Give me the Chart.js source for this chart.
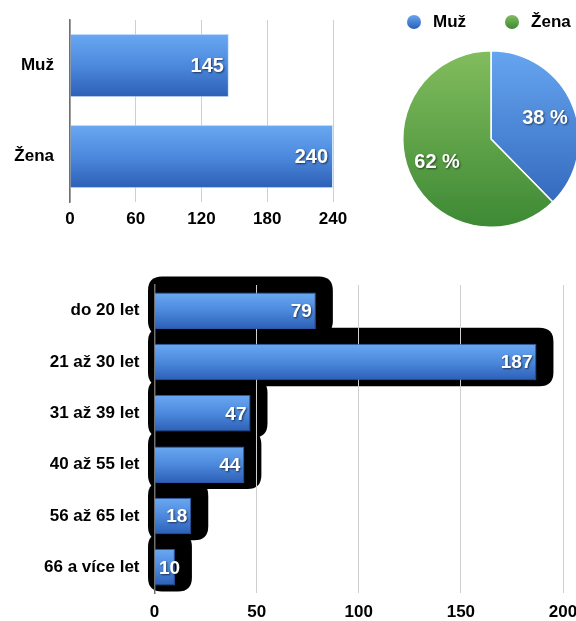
<!DOCTYPE html>
<html lang="cs">
<head>
  <meta charset="UTF-8">
  <title>Pohlaví a věk respondentů</title>

  <!-- Chart.js -->
  <script src="https://cdn.jsdelivr.net/npm/chart.js"></script>

  <style>
    html, body {
      margin: 0;
      padding: 0;
      background: #fff;
      overflow: hidden;
    }
    body {
      position: relative;
      width: 576px;
      height: 621px;
      font-family: "Liberation Sans", Arial, sans-serif;
    }
    .box { position: absolute; }
    #genderBox { left: 0; top: 0; width: 360px; height: 245px; }
    #pieBox { left: 361px; top: 0; width: 260px; height: 245px; }
    #ageBox { left: 0; top: 250px; width: 600px; height: 371px; }
    #pieLegend {
      position: absolute;
      left: 407px;
      top: 13px;
      display: flex;
      align-items: center;
      font-weight: bold;
      font-size: 17px;
      line-height: 18px;
      color: #000;
      white-space: nowrap;
    }
    #pieLegend .item { display: flex; align-items: center; margin-right: 39px; }
    #pieLegend .dot {
      width: 14px;
      height: 14px;
      border-radius: 50%;
      margin-right: 12px;
    }
  </style>
</head>
<body>

  <div class="box" id="genderBox"><canvas id="genderChart"></canvas></div>
  <div class="box" id="pieBox"><canvas id="pieChart"></canvas></div>
  <div id="pieLegend"></div>
  <div class="box" id="ageBox"><canvas id="ageChart"></canvas></div>

  <script>
    // data
    const genderLabels = ['Muž', 'Žena'];
    const genderCounts = [145, 240];
    const genderTicks = [0, 60, 120, 180, 240];

    const ageLabels = ['do 20 let', '21 až 30 let', '31 až 39 let', '40 až 55 let', '56 až 65 let', '66 a více let'];
    const ageCounts = [79, 187, 47, 44, 18, 10];
    const ageTicks = [0, 50, 100, 150, 200];

    const FONT = '"Liberation Sans", Arial, sans-serif';
    const tickFont = { family: FONT, size: 17, weight: 'bold' };

    // vertical blue gradient for each bar
    function barFill(c) {
      const chart = c.chart;
      const area = chart.chartArea;
      if (!area || c.dataIndex === undefined) return '#4a86dc';
      const mid = chart.scales.y.getPixelForValue(c.dataIndex);
      const half = (area.height / chart.data.labels.length) * c.dataset.barPercentage / 2;
      const g = chart.ctx.createLinearGradient(0, mid - half, 0, mid + half);
      g.addColorStop(0, '#6aa8f2');
      g.addColorStop(0.5, '#4c89dd');
      g.addColorStop(1, '#2c5fb6');
      return g;
    }

    // white numbers at the end of the bars
    const valueLabels = {
      id: 'valueLabels',
      afterDatasetsDraw(chart, args, opts) {
        const ctx = chart.ctx;
        const ds = chart.data.datasets[0];
        ctx.save();
        ctx.font = 'bold ' + opts.size + 'px ' + FONT;
        ctx.fillStyle = '#fff';
        ctx.textAlign = 'right';
        ctx.textBaseline = 'middle';
        ctx.shadowColor = 'rgba(0,0,0,0.6)';
        ctx.shadowOffsetX = 1;
        ctx.shadowOffsetY = 1;
        ctx.shadowBlur = 2;
        chart.getDatasetMeta(0).data.forEach((bar, i) => {
          const text = String(ds.data[i]);
          const w = ctx.measureText(text).width;
          const right = Math.max(bar.x - opts.inset, bar.base + 4 + w);
          ctx.fillText(text, right, bar.y + 1);
        });
        ctx.restore();
      }
    };

    function roundRectPath(ctx, x, y, w, h, r) {
      ctx.beginPath();
      ctx.moveTo(x + r, y);
      ctx.lineTo(x + w - r, y);
      ctx.quadraticCurveTo(x + w, y, x + w, y + r);
      ctx.lineTo(x + w, y + h - r);
      ctx.quadraticCurveTo(x + w, y + h, x + w - r, y + h);
      ctx.lineTo(x + r, y + h);
      ctx.quadraticCurveTo(x, y + h, x, y + h - r);
      ctx.lineTo(x, y + r);
      ctx.quadraticCurveTo(x, y, x + r, y);
      ctx.closePath();
    }

    // the heavy black shadow behind the age bars
    const blackShadow = {
      id: 'blackShadow',
      beforeDraw(chart) {
        const ctx = chart.ctx;
        ctx.save();
        ctx.fillStyle = '#000';
        chart.getDatasetMeta(0).data.forEach(bar => {
          const h = bar.height;
          roundRectPath(ctx, bar.base - 7, bar.y - h / 2 - 16, bar.x - bar.base + 24, h + 22, 14);
          ctx.fill();
        });
        ctx.restore();
      }
    };

    // percentages inside the pie
    const pieLabels = {
      id: 'pieLabels',
      afterDatasetsDraw(chart) {
        const ctx = chart.ctx;
        const vals = chart.data.datasets[0].data;
        const total = vals.reduce((a, b) => a + b, 0);
        ctx.save();
        ctx.font = 'bold 20px ' + FONT;
        ctx.fillStyle = '#fff';
        ctx.textAlign = 'center';
        ctx.textBaseline = 'middle';
        ctx.shadowColor = 'rgba(0,0,0,0.55)';
        ctx.shadowOffsetX = 1;
        ctx.shadowOffsetY = 1;
        ctx.shadowBlur = 2;
        chart.getDatasetMeta(0).data.forEach((arc, i) => {
          const a = (arc.startAngle + arc.endAngle) / 2;
          const r = arc.outerRadius * 0.66;
          ctx.fillText(Math.round(vals[i] / total * 100) + ' %', arc.x + Math.cos(a) * r, arc.y + Math.sin(a) * r + 1);
        });
        ctx.restore();
      }
    };

    const pieColors = [['#66a5f0', '#2c60b6'], ['#82bd5e', '#3d8934']];

    function pieFill(c) {
      const chart = c.chart;
      const area = chart.chartArea;
      const pair = pieColors[c.dataIndex] || pieColors[0];
      if (!area) return pair[1];
      const g = chart.ctx.createLinearGradient(0, area.top, 0, area.bottom);
      g.addColorStop(0, pair[0]);
      g.addColorStop(1, pair[1]);
      return g;
    }

    // gender bar chart
    new Chart(document.getElementById('genderChart'), {
      type: 'bar',
      data: {
        labels: genderLabels,
        datasets: [{
          data: genderCounts,
          backgroundColor: barFill,
          borderColor: 'rgba(205,225,250,0.9)',
          borderWidth: 1,
          borderSkipped: 'start',
          barPercentage: 0.7,
          categoryPercentage: 1
        }]
      },
      options: {
        indexAxis: 'y',
        responsive: true,
        maintainAspectRatio: false,
        animation: false,
        layout: { padding: { top: 20, right: 27, left: 0, bottom: 0 } },
        plugins: {
          legend: { display: false },
          tooltip: { enabled: false },
          valueLabels: { size: 20, inset: 5 }
        },
        scales: {
          x: {
            min: genderTicks[0],
            max: genderTicks[genderTicks.length - 1],
            afterBuildTicks: s => { s.ticks = genderTicks.map(v => ({ value: v })); },
            ticks: { color: '#000', font: tickFont, padding: 7 },
            grid: { color: '#cfcfcf', drawTicks: false },
            border: { display: false },
            afterFit: s => { s.height = 43; }
          },
          y: {
            ticks: { color: '#000', font: tickFont, padding: 16 },
            grid: { display: false, drawTicks: false },
            border: { color: '#6f6f6f', width: 1.5 },
            afterFit: s => { s.width = 70; s.paddingTop = 0; s.paddingBottom = 0; }
          }
        }
      },
      plugins: [valueLabels]
    });

    // pie
    new Chart(document.getElementById('pieChart'), {
      type: 'pie',
      data: {
        labels: genderLabels,
        datasets: [{
          data: genderCounts,
          backgroundColor: pieFill,
          borderColor: '#fff',
          borderWidth: 1.5
        }]
      },
      options: {
        responsive: true,
        maintainAspectRatio: false,
        animation: false,
        layout: { padding: { top: 50, bottom: 17 } },
        plugins: {
          legend: { display: false },
          tooltip: { enabled: false }
        }
      },
      plugins: [pieLabels]
    });

    // html legend for the pie
    const legend = document.getElementById('pieLegend');
    genderLabels.forEach((name, i) => {
      const item = document.createElement('span');
      item.className = 'item';
      const dot = document.createElement('span');
      dot.className = 'dot';
      dot.style.background = 'linear-gradient(' + pieColors[i][0] + ', ' + pieColors[i][1] + ')';
      item.appendChild(dot);
      item.appendChild(document.createTextNode(name));
      legend.appendChild(item);
    });

    // age bar chart
    new Chart(document.getElementById('ageChart'), {
      type: 'bar',
      data: {
        labels: ageLabels,
        datasets: [{
          data: ageCounts,
          backgroundColor: barFill,
          borderColor: '#2b58a4',
          borderWidth: 1,
          borderSkipped: 'start',
          barPercentage: 0.71,
          categoryPercentage: 1
        }]
      },
      options: {
        indexAxis: 'y',
        responsive: true,
        maintainAspectRatio: false,
        animation: false,
        layout: { padding: { top: 35, right: 37, left: 0, bottom: 0 } },
        plugins: {
          legend: { display: false },
          tooltip: { enabled: false },
          valueLabels: { size: 19, inset: 4 }
        },
        scales: {
          x: {
            min: ageTicks[0],
            max: ageTicks[ageTicks.length - 1],
            afterBuildTicks: s => { s.ticks = ageTicks.map(v => ({ value: v })); },
            ticks: { color: '#000', font: tickFont, padding: 9 },
            grid: { color: '#cfcfcf', drawTicks: false },
            border: { display: false },
            afterFit: s => { s.height = 28; }
          },
          y: {
            ticks: { color: '#000', font: tickFont, padding: 15 },
            grid: { display: false, drawTicks: false },
            border: { color: '#6f6f6f', width: 1.5 },
            afterFit: s => { s.width = 154.5; s.paddingTop = 0; s.paddingBottom = 0; }
          }
        }
      },
      plugins: [valueLabels, blackShadow]
    });
  </script>

</body>
</html>
